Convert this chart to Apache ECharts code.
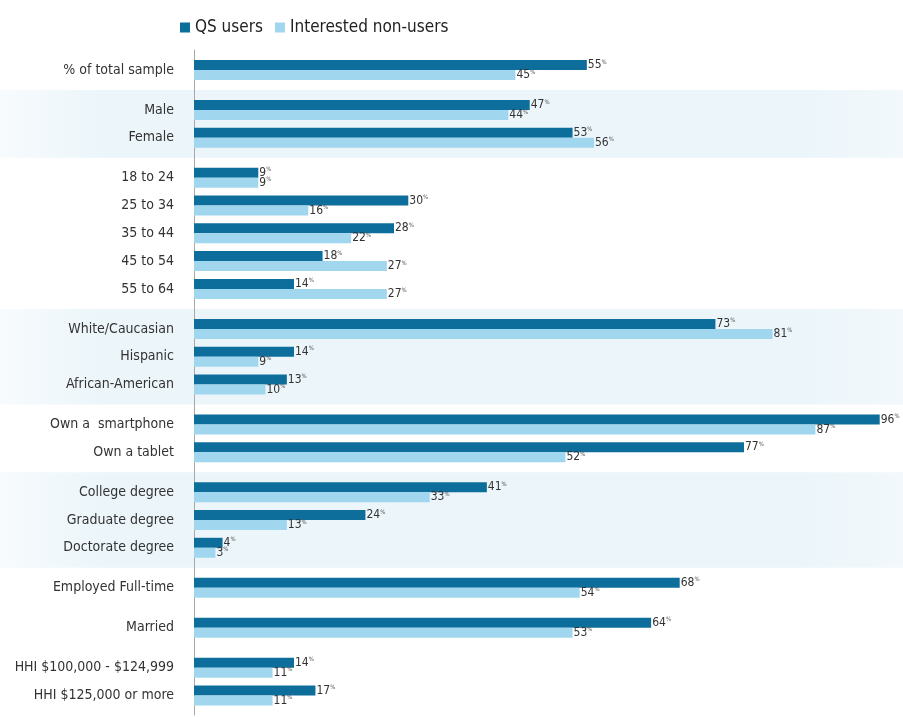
<!DOCTYPE html>
<html>
<head>
<meta charset="utf-8">
<script src="https://cdn.jsdelivr.net/npm/echarts@6/dist/echarts.min.js"></script>
<style>
  html, body { margin: 0; padding: 0; background: #ffffff; }
  #chart { width: 903px; height: 717px; }
</style>
</head>
<body>
<div id="chart"></div>
<script>
// Profile of QS users versus interested non-users (share of each group, %)
const groups = [
  ['% of total sample'],
  ['Male', 'Female'],
  ['18 to 24', '25 to 34', '35 to 44', '45 to 54', '55 to 64'],
  ['White/Caucasian', 'Hispanic', 'African-American'],
  ['Own a  smartphone', 'Own a tablet'],
  ['College degree', 'Graduate degree', 'Doctorate degree'],
  ['Employed Full-time'],
  ['Married'],
  ['HHI $100,000 - $124,999', 'HHI $125,000 or more']
];
const qsUsers = [55, 47, 53, 9, 30, 28, 18, 14, 73, 14, 13, 96, 77, 41, 24, 4, 68, 64, 14, 17];
const nonUsers = [45, 44, 56, 9, 16, 22, 27, 27, 81, 9, 10, 87, 52, 33, 13, 3, 54, 53, 11, 11];
const seriesNames = ['QS users', 'Interested non-users'];

// Groups drawn on a tinted band
const shadedGroups = [1, 3, 5];

// Row layout: one unit per row, a wider step between groups
const GROUP_STEP = 1.44;
const categories = [];
const positions = [];
const groupSpans = [];
let cursor = 0;
groups.forEach((g, gi) => {
  if (gi > 0) cursor += GROUP_STEP - 1;
  const first = cursor;
  g.forEach((name, i) => {
    if (i > 0) cursor += 1;
    categories.push(name);
    positions.push(cursor);
  });
  groupSpans.push([first, cursor]);
  cursor += 1;
});
cursor -= 1;
const halfGap = GROUP_STEP / 2;

const DARK = '#0d6e9c';
const LIGHT = '#a0d7ee';
const FONT = '"Liberation Sans Narrow", "DejaVu Sans Condensed", "Liberation Sans", sans-serif';

function nameAt(v) {
  const idx = positions.findIndex(p => Math.abs(p - v) < 1e-6);
  return idx >= 0 ? categories[idx] : '';
}

function barRenderer(upper, color) {
  return function (params, api) {
    const v = api.value(0);
    const p = api.value(1);
    const a = api.coord([0, p]);
    const b = api.coord([v, p]);
    const h = 10;
    const y = upper ? a[1] - h : a[1];
    return {
      type: 'group',
      children: [
        { type: 'rect', shape: { x: a[0], y: y, width: b[0] - a[0], height: h }, style: { fill: color } },
        {
          type: 'text', x: b[0] + 1, y: y + h / 2,
          style: {
            text: '{v|' + v + '}{p|%}',
            align: 'left', verticalAlign: 'middle',
            rich: {
              v: { fontSize: 12, fontFamily: FONT, fill: '#333333' },
              p: { fontSize: 6, fontFamily: FONT, fill: '#555555', verticalAlign: 'top', padding: [0, 0, 4, 0] }
            }
          }
        }
      ]
    };
  };
}

const bandData = shadedGroups.map(gi => [groupSpans[gi][0] - halfGap, groupSpans[gi][1] + halfGap]);

const chart = echarts.init(document.getElementById('chart'));
chart.setOption({
  animation: false,
  backgroundColor: '#ffffff',
  legend: {
    data: seriesNames,
    left: 175,
    top: 14,
    icon: 'rect',
    itemWidth: 10,
    itemHeight: 10,
    itemGap: 12,
    textStyle: { fontSize: 17, color: '#222222', fontFamily: FONT }
  },
  grid: { left: 194, right: 9, top: 50, bottom: 2 },
  xAxis: { type: 'value', min: 0, max: 98, show: false },
  yAxis: {
    type: 'value',
    inverse: true,
    min: -0.72,
    max: cursor + 0.7,
    offset: 14,
    axisLine: { show: true, lineStyle: { color: '#a8a8a8', width: 1 } },
    axisTick: { show: false },
    splitLine: { show: false },
    axisLabel: {
      customValues: positions,
      formatter: nameAt,
      margin: 6,
      fontSize: 14,
      color: '#333333',
      fontFamily: FONT
    }
  },
  series: [
    {
      type: 'custom',
      name: 'bands',
      silent: true,
      z: 0,
      data: bandData,
      encode: { y: [0, 1] },
      renderItem: function (params, api) {
        const top = api.coord([0, api.value(0)])[1];
        const bottom = api.coord([0, api.value(1)])[1];
        return {
          type: 'rect',
          shape: { x: 0, y: top, width: api.getWidth(), height: bottom - top },
          style: {
            fill: new echarts.graphic.LinearGradient(0, 0, 1, 0, [
              { offset: 0, color: '#f7fbfd' },
              { offset: 0.12, color: '#ebf5fa' },
              { offset: 0.88, color: '#ebf5fa' },
              { offset: 1, color: '#f2f8fb' }
            ])
          }
        };
      }
    },
    {
      type: 'custom',
      name: seriesNames[0],
      itemStyle: { color: DARK },
      z: 2,
      data: qsUsers.map((v, i) => [v, positions[i]]),
      encode: { x: 0, y: 1 },
      renderItem: barRenderer(true, DARK)
    },
    {
      type: 'custom',
      name: seriesNames[1],
      itemStyle: { color: LIGHT },
      z: 2,
      data: nonUsers.map((v, i) => [v, positions[i]]),
      encode: { x: 0, y: 1 },
      renderItem: barRenderer(false, LIGHT)
    }
  ]
});
</script>
</body>
</html>
